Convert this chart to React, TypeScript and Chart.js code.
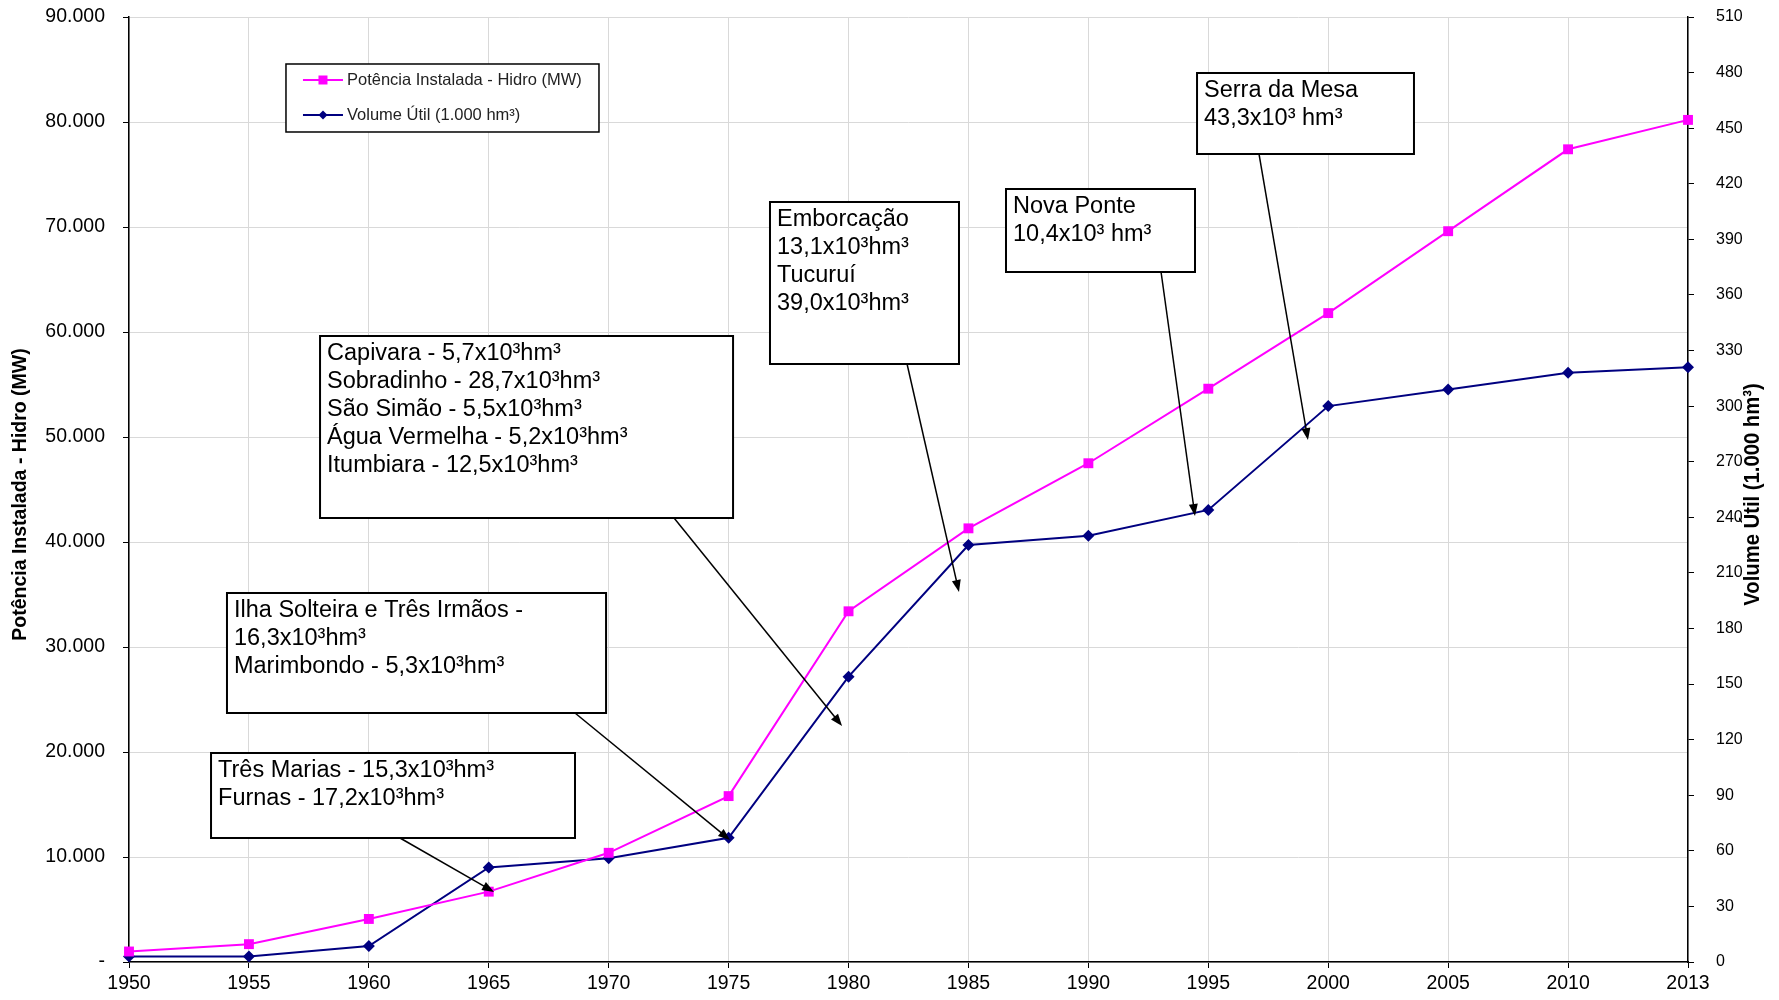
import React, { useEffect, useRef } from "react";
import { Chart, registerables } from "chart.js";

Chart.register(...registerables);

// ---------- data ----------
const years = ["1950", "1955", "1960", "1965", "1970", "1975", "1980", "1985", "1990", "1995", "2000", "2005", "2010", "2013"];
const potenciaMW = [1000, 1700, 4100, 6700, 10400, 15800, 33400, 41300, 47500, 54600, 61800, 69600, 77400, 80200];
const volumeUtil = [3, 3, 8.6, 51, 56, 67, 154, 225, 230, 244, 300, 309, 318, 321];
const leftTickStep = 10000;
const leftMax = 90000;
const rightTickStep = 30;
const rightMax = 510;

const seriesLabels = ["Potência Instalada - Hidro (MW)", "Volume Útil (1.000 hm³)"];
const leftTitle = "Potência Instalada - Hidro (MW)";
const rightTitle = "Volume Útil (1.000 hm³)";

// annotation boxes: [xIndexLeft, valueTop, xIndexRight, valueBottom] in (category index, left-axis value)
const annotations = [
  { lines: ["Serra da Mesa", "43,3x10³ hm³"], box: [8.906, 84667, 10.715, 76952], arrow: [9.423, 76952, 9.831, 49714] },
  { lines: ["Nova Ponte", "10,4x10³ hm³"], box: [7.313, 73619, 8.889, 65714], arrow: [8.606, 65714, 8.889, 42476] },
  { lines: ["Emborcação", "13,1x10³hm³", "Tucuruí", "39,0x10³hm³"], box: [5.345, 72381, 6.921, 56952], arrow: [6.488, 56952, 6.921, 35238] },
  {
    lines: ["Capivara - 5,7x10³hm³", "Sobradinho - 28,7x10³hm³", "São Simão - 5,5x10³hm³", "Água Vermelha - 5,2x10³hm³", "Itumbiara - 12,5x10³hm³"],
    box: [1.593, 59619, 5.037, 42286],
    arrow: [4.545, 42286, 5.946, 22476],
  },
  { lines: ["Ilha Solteira e Três Irmãos -", "16,3x10³hm³", "Marimbondo - 5,3x10³hm³"], box: [0.817, 35143, 3.978, 23714], arrow: [3.719, 23714, 5.012, 11619] },
  { lines: ["Três Marias - 15,3x10³hm³", "Furnas - 17,2x10³hm³"], box: [0.684, 19905, 3.719, 11810], arrow: [2.26, 11810, 3.044, 6667] },
];
const legendBox = [1.309, 85524, 3.919, 79048];

const FONT = "'Liberation Sans', Arial, sans-serif";
const PINK = "#FF00FF";
const NAVY = "#000080";

function fmtThousands(v: number): string {
  if (v === 0) return "-";
  return String(Math.round(v)).replace(/\B(?=(\d{3})+(?!\d))/g, ".");
}

const overlayPlugin = {
  id: "overlay",
  afterDatasetsDraw(chart: any) {
    const ctx = chart.ctx;
    const xs = chart.scales.x;
    const ys = chart.scales.y;
    const px = (i: number) => xs.getPixelForValue(i);
    const py = (v: number) => ys.getPixelForValue(v);
    const area = chart.chartArea;

    ctx.save();
    // annotation boxes
    for (const a of annotations) {
      const x1 = px(a.box[0]), y1 = py(a.box[1]), x2 = px(a.box[2]), y2 = py(a.box[3]);
      ctx.fillStyle = "#ffffff";
      ctx.fillRect(x1, y1, x2 - x1, y2 - y1);
      ctx.strokeStyle = "#000";
      ctx.lineWidth = 2;
      ctx.strokeRect(x1, y1, x2 - x1, y2 - y1);
      ctx.fillStyle = "#000";
      ctx.font = `23.5px ${FONT}`;
      ctx.textBaseline = "alphabetic";
      ctx.textAlign = "left";
      a.lines.forEach((t, k) => ctx.fillText(t, x1 + 7, y1 + 24 + k * 28));

      // arrow
      const ax1 = px(a.arrow[0]), ay1 = py(a.arrow[1]), ax2 = px(a.arrow[2]), ay2 = py(a.arrow[3]);
      const ang = Math.atan2(ay2 - ay1, ax2 - ax1);
      const hl = 12, hw = 4.5;
      ctx.beginPath();
      ctx.moveTo(ax1, ay1);
      ctx.lineTo(ax2 - Math.cos(ang) * hl * 0.8, ay2 - Math.sin(ang) * hl * 0.8);
      ctx.lineWidth = 1.5;
      ctx.stroke();
      ctx.beginPath();
      ctx.moveTo(ax2, ay2);
      ctx.lineTo(ax2 - Math.cos(ang) * hl - Math.sin(ang) * hw, ay2 - Math.sin(ang) * hl + Math.cos(ang) * hw);
      ctx.lineTo(ax2 - Math.cos(ang) * hl + Math.sin(ang) * hw, ay2 - Math.sin(ang) * hl - Math.cos(ang) * hw);
      ctx.closePath();
      ctx.fill();
    }

    // legend
    const lx1 = px(legendBox[0]), ly1 = py(legendBox[1]), lx2 = px(legendBox[2]), ly2 = py(legendBox[3]);
    ctx.fillStyle = "#fff";
    ctx.fillRect(lx1, ly1, lx2 - lx1, ly2 - ly1);
    ctx.strokeStyle = "#000";
    ctx.lineWidth = 1.5;
    ctx.strokeRect(lx1, ly1, lx2 - lx1, ly2 - ly1);
    const rowH = (ly2 - ly1) / 2;
    chart.data.datasets.forEach((ds: any, k: number) => {
      const cy = ly1 + rowH * (k + 0.5) - (k === 0 ? 1 : 0);
      ctx.strokeStyle = ds.borderColor;
      ctx.lineWidth = 2;
      ctx.beginPath();
      ctx.moveTo(lx1 + 17, cy);
      ctx.lineTo(lx1 + 57, cy);
      ctx.stroke();
      ctx.fillStyle = ds.backgroundColor;
      const mx = lx1 + 37;
      if (ds.pointStyle === "rect") {
        ctx.fillRect(mx - 4.5, cy - 4.5, 9, 9);
      } else {
        ctx.beginPath();
        ctx.moveTo(mx, cy - 4.5);
        ctx.lineTo(mx + 4.5, cy);
        ctx.lineTo(mx, cy + 4.5);
        ctx.lineTo(mx - 4.5, cy);
        ctx.closePath();
        ctx.fill();
      }
      ctx.fillStyle = "#222";
      ctx.font = `16.5px ${FONT}`;
      ctx.textBaseline = "middle";
      ctx.fillText(ds.label, lx1 + 61, cy);
    });

    // axis titles
    ctx.fillStyle = "#000";
    ctx.textAlign = "center";
    ctx.textBaseline = "middle";
    const cyMid = (area.top + area.bottom) / 2 + 5;
    ctx.save();
    ctx.translate(21, cyMid);
    ctx.rotate(-Math.PI / 2);
    ctx.font = `bold 19.5px ${FONT}`;
    ctx.fillText(leftTitle, 0, 0);
    ctx.restore();
    ctx.save();
    ctx.translate(1753, cyMid);
    ctx.rotate(-Math.PI / 2);
    ctx.scale(0.92, 1);
    ctx.font = `bold 22px ${FONT}`;
    ctx.fillText(rightTitle, 0, 0);
    ctx.restore();

    ctx.restore();
  },
};

export default function App() {
  const ref = useRef<HTMLCanvasElement | null>(null);

  useEffect(() => {
    if (!ref.current) return;
    const chart = new Chart(ref.current, {
      type: "line",
      data: {
        labels: years,
        datasets: [
          {
            label: seriesLabels[0],
            data: potenciaMW,
            borderColor: PINK,
            backgroundColor: PINK,
            borderWidth: 2,
            pointStyle: "rect",
            pointRadius: 7,
            pointBorderWidth: 0,
            yAxisID: "y",
            tension: 0,
          },
          {
            label: seriesLabels[1],
            data: volumeUtil,
            borderColor: NAVY,
            backgroundColor: NAVY,
            borderWidth: 2,
            pointStyle: "rectRot",
            pointRadius: 6,
            pointBorderWidth: 0,
            yAxisID: "y2",
            tension: 0,
          },
        ],
      },
      options: {
        responsive: false,
        animation: false,
        layout: { padding: { top: 17, left: 0, right: 0, bottom: 0 } },
        plugins: { legend: { display: false }, tooltip: { enabled: false }, title: { display: false } },
        scales: {
          x: {
            type: "category",
            offset: false,
            grid: { color: "#d9d9d9", lineWidth: 1, tickLength: 6, tickColor: "#000" },
            border: { color: "#000", width: 1.5 },
            ticks: { color: "#000", font: { family: FONT, size: 19.5 }, padding: 4, maxRotation: 0, autoSkip: false },
            afterFit: (s: any) => {
              s.height = 38;
              s.paddingLeft = 0;
              s.paddingRight = 0;
            },
          },
          y: {
            position: "left",
            min: 0,
            max: leftMax,
            grid: { color: "#d9d9d9", lineWidth: 1, tickLength: 6, tickColor: "#000" },
            border: { color: "#000", width: 1.5 },
            ticks: {
              stepSize: leftTickStep,
              color: "#000",
              font: { family: FONT, size: 19.5 },
              padding: 18,
              callback: (v: any) => fmtThousands(Number(v)),
            },
            afterFit: (s: any) => {
              s.width = 129;
              s.paddingTop = 0;
              s.paddingBottom = 0;
            },
          },
          y2: {
            position: "right",
            min: 0,
            max: rightMax,
            grid: { drawOnChartArea: false, tickLength: 6, tickColor: "#000" },
            border: { color: "#000", width: 1.5 },
            ticks: {
              stepSize: rightTickStep,
              color: "#000",
              font: { family: FONT, size: 16 },
              padding: 22,
            },
            afterFit: (s: any) => {
              s.width = 91;
              s.paddingTop = 0;
              s.paddingBottom = 0;
            },
          },
        },
      },
      plugins: [overlayPlugin],
    });
    return () => chart.destroy();
  }, []);

  return (
    <div style={{ position: "absolute", left: 0, top: 0, width: 1779, height: 1000, background: "#fff" }}>
      <canvas ref={ref} width={1779} height={1000} style={{ display: "block" }} />
    </div>
  );
}
